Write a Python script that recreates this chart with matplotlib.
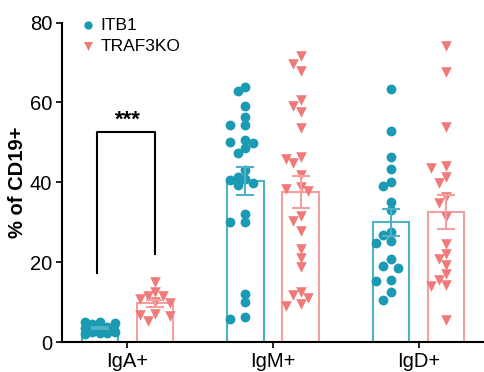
import numpy as np
import matplotlib
matplotlib.use('Agg')
import matplotlib.pyplot as plt

plt.rcParams['font.family'] = ['Liberation Sans', 'DejaVu Sans']

groups = ['IgA+', 'IgM+', 'IgD+']
series = ['ITB1', 'TRAF3KO']

# values (% of CD19+)
itb1_iga = [4.8, 5.0, 4.6, 4.9, 3.8, 3.5, 3.6, 2.5, 2.2, 2.0, 2.3, 2.6]
itb1_igm = [63.9, 62.9, 59.1, 56.4, 54.3, 54.3, 50.1, 50.6, 49.9, 48.5, 47.2, 43.0,
            40.5, 40.7, 41.4, 39.8, 39.3, 32.1, 30.0, 30.0, 12.1, 10.0, 6.3, 5.7]
itb1_igd = [63.3, 52.8, 46.3, 43.3, 39.1, 40.1, 35.1, 33.0, 26.9, 27.6, 24.8, 25.2,
            20.7, 18.5, 19.0, 15.3, 15.5, 12.4, 10.6]
traf_iga = [15.0, 12.6, 11.6, 11.4, 10.8, 10.0, 9.8, 7.0, 6.8, 6.5, 5.2]
traf_igm = [71.6, 69.6, 67.9, 60.6, 59.1, 57.6, 53.5, 46.2, 45.7, 44.7, 41.8, 38.8,
            37.8, 38.4, 31.6, 30.3, 27.8, 23.4, 21.1, 18.8, 12.4, 11.1, 11.7, 9.0, 9.6]
traf_igd = [74.1, 67.7, 53.9, 44.1, 43.5, 41.2, 39.7, 36.3, 34.8, 31.2, 24.5, 22.0,
            20.9, 19.2, 17.1, 15.5, 14.0, 14.2, 5.6]

data = {'ITB1': [itb1_iga, itb1_igm, itb1_igd],
        'TRAF3KO': [traf_iga, traf_igm, traf_igd]}

colors = {'ITB1': '#1b9ab3', 'TRAF3KO': '#f07a7a'}
edge_colors = {'ITB1': '#4fb1c6', 'TRAF3KO': '#f5a0a0'}
markers = {'ITB1': 'o', 'TRAF3KO': 'v'}
offsets = {'ITB1': -0.19, 'TRAF3KO': 0.19}


def swarm(vals, px_per_y=3.99, px_per_x=145.7, diam=8.0, step=7.5, max_k=2):
    # beeswarm-ish: shift sideways on overlap, never further than max_k steps
    vals = np.asarray(vals)
    order = np.argsort(vals)[::-1]
    placed = []
    xs = np.zeros(len(vals))
    cands = [0.0]
    for k in range(1, max_k + 1):
        cands += [-k * step, k * step]
    for i in order:
        y = vals[i] * px_per_y
        best, best_d = 0.0, -1
        for c in cands:
            d = min([np.hypot(c - px, y - py) for px, py in placed] or [99])
            if d >= diam:
                best = c
                break
            if d > best_d:
                best, best_d = c, d
        placed.append((best, y))
        xs[i] = best / px_per_x
    return xs


fig = plt.figure(figsize=(4.84, 3.72), dpi=100)
ax = fig.add_axes([62 / 484, 1 - 342 / 372, 422 / 484, 319.5 / 372])

x = np.arange(len(groups))
for s in series:
    for gi, vals in enumerate(data[s]):
        vals = np.array(vals)
        xc = x[gi] + offsets[s]
        m = vals.mean()
        sem = vals.std(ddof=1) / np.sqrt(len(vals))
        ax.bar(xc, m, width=0.25, color='white', edgecolor=edge_colors[s],
               linewidth=1.5, zorder=1)
        ax.scatter(xc + swarm(vals), vals, marker=markers[s], s=50 if s == 'ITB1' else 58,
                   color=colors[s], linewidths=0, zorder=2,
                   label=s if gi == 0 else None)
        ax.errorbar(xc, m, yerr=sem, color=edge_colors[s], capsize=6.5,
                    elinewidth=1.5, capthick=1.5, zorder=3)

# significance bracket
ax.plot([x[0] - 0.21, x[0] - 0.21, x[0] + 0.19, x[0] + 0.19],
        [17.3, 52.5, 52.5, 22.0], color='black', linewidth=1.5, zorder=4)
ax.text(x[0], 53.0, '***', ha='center', va='bottom', fontsize=16, fontweight='bold')

ax.set_xlim(-0.45, 2.45)
ax.set_ylim(0, 80)
ax.set_yticks([0, 20, 40, 60, 80])
ax.set_xticks(x)
ax.set_xticklabels(groups)
ax.tick_params(labelsize=14.5, width=1.2, length=4, pad=3)
ax.set_ylabel('% of CD19+', fontsize=14.5, fontweight='bold', labelpad=2)
for sp in ['top', 'right']:
    ax.spines[sp].set_visible(False)
for sp in ['left', 'bottom']:
    ax.spines[sp].set_linewidth(1.5)

ax.legend(loc='upper left', bbox_to_anchor=(0.0, 1.065), frameon=False, fontsize=12.5,
          handletextpad=0.1, labelspacing=0.35, markerscale=0.85, handlelength=1.2)

plt.savefig('out.png', dpi=100)
